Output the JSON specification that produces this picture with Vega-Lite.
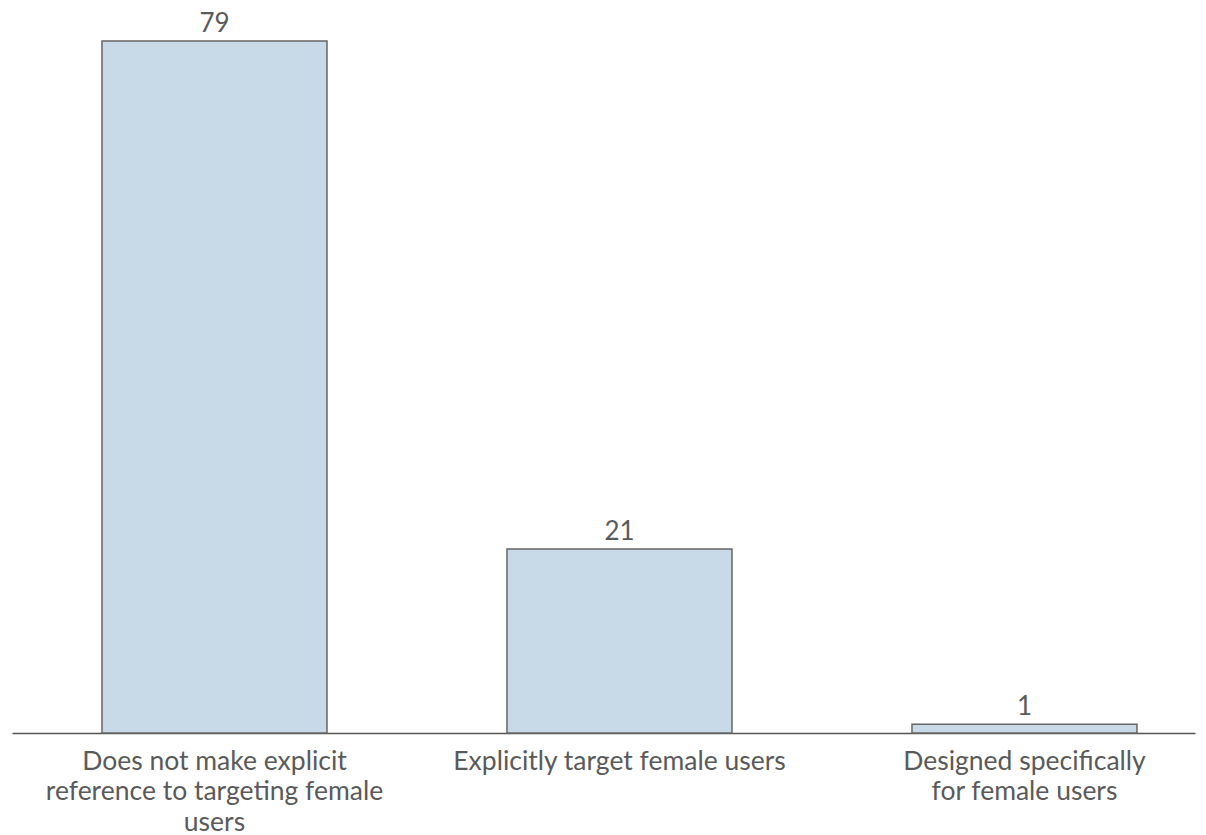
{
  "$schema": "https://vega.github.io/schema/vega-lite/v6.json",
  "autosize": {"type": "none"},
  "padding": {"left": 12, "top": 41, "right": 11, "bottom": 102},
  "width": 1183,
  "height": 692,
  "background": "white",
  "data": {
    "values": [
      {"category": "Does not make explicit reference to targeting female users", "count": 79},
      {"category": "Explicitly target female users", "count": 21},
      {"category": "Designed specifically for female users", "count": 1}
    ]
  },
  "encoding": {
    "x": {
      "field": "category",
      "type": "nominal",
      "sort": null,
      "scale": {"paddingInner": 0.4444, "paddingOuter": 0.1827, "align": 0.608},
      "axis": {
        "title": null,
        "labelAngle": 0,
        "ticks": false,
        "domainColor": "#555555",
        "domainWidth": 1.5,
        "labelFont": "Lato",
        "labelFontSize": 26.5,
        "labelColor": "#5a5a5a",
        "labelPadding": 15,
        "labelLineHeight": 30.5,
        "labelLimit": 0,
        "labelExpr": "datum.value == 'Does not make explicit reference to targeting female users' ? ['Does not make explicit', 'reference to targeting female', 'users'] : datum.value == 'Designed specifically for female users' ? ['Designed specifically', 'for female users'] : datum.value"
      }
    },
    "y": {
      "field": "count",
      "type": "quantitative",
      "scale": {"domain": [0, 79], "nice": false},
      "axis": null
    }
  },
  "layer": [
    {
      "mark": {"type": "bar", "fill": "#c8d9e7", "stroke": "#666666", "strokeWidth": 1.5}
    },
    {
      "mark": {"type": "text", "baseline": "bottom", "dy": -4, "font": "Lato", "fontSize": 26, "color": "#5a5a5a"},
      "encoding": {"text": {"field": "count", "type": "quantitative"}}
    }
  ],
  "config": {"view": {"stroke": null}}
}
